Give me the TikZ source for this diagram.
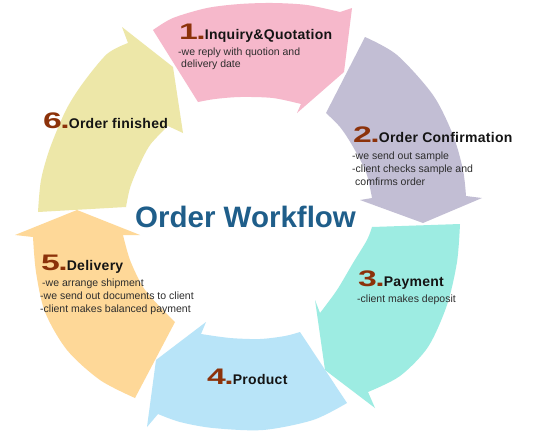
\documentclass[tikz,border=0pt]{standalone}
\usepackage{fontspec}
\setmainfont{Liberation Sans}
\newfontfamily\numfont[FakeStretch=1.5]{Liberation Sans}
\newfontfamily\headfont[LetterSpace=2]{Liberation Sans}
\definecolor{pinkc}{RGB}{246,184,203}
\definecolor{purplec}{RGB}{194,190,212}
\definecolor{tealc}{RGB}{157,236,226}
\definecolor{bluec}{RGB}{184,228,248}
\definecolor{orangec}{RGB}{254,216,152}
\definecolor{yellowc}{RGB}{237,231,168}
\definecolor{numc}{RGB}{140,50,10}
\definecolor{titlec}{RGB}{31,94,138}
\definecolor{headc}{RGB}{20,20,20}
\definecolor{bodyc}{RGB}{45,45,45}
\newcommand\stepnum[1]{{\numfont\bfseries\fontsize{22.5}{22.5}\selectfont\color{numc}#1\kern-1.5pt.\kern-1pt}}
\begin{document}
\begin{tikzpicture}[x=1pt,y=-1pt,
  headtext/.style={anchor=base west, inner sep=0pt, text=headc, font=\headfont\bfseries\fontsize{14}{14}\selectfont},
  bodytext/.style={anchor=base west, inner sep=0pt, text=bodyc, font=\fontsize{10.5}{12}\selectfont},
  titletext/.style={anchor=base west, inner sep=0pt, text=titlec, font=\bfseries\fontsize{29.5}{30}\selectfont}]
\useasboundingbox[fill=white] (0,0) rectangle (538,437);
% 1 pink
\fill[pinkc] plot[smooth] coordinates {(153,30) (173,18) (207,8) (240,4) (273,3) (307,5) (340,12)}
  -- (352,8) -- (344,72) -- (297,113)
  -- plot[smooth] coordinates {(301,104) (273,98) (240,97) (215,99) (198,102)} -- cycle;
% 2 purple
\fill[purplec] plot[smooth] coordinates {(365,37) (397,55) (433,95) (453,135) (463,170) (466,196)}
  -- (482,198) -- (423,223) -- (360,200)
  -- plot[smooth] coordinates {(372,198) (366,172) (352,145) (340,127) (326,113)} -- cycle;
% 3 teal
\fill[tealc] plot[smooth] coordinates {(460,224) (457,262) (447,305) (428,347) (400,376) (368,392)}
  -- (375,408) -- (325,370) -- (315,300)
  -- plot[smooth] coordinates {(320,313) (337,290) (353,263) (367,240) (372,227)} -- cycle;
% 4 blue
\fill[bluec] plot[smooth] coordinates {(347,403) (313,420) (263,430) (213,428) (180,422) (158,414)}
  -- (147,427) -- (156,360) -- (206,322)
  -- plot[smooth] coordinates {(201,334) (230,338) (260,339) (285,336) (300,332)} -- cycle;
% 5 orange
\fill[orangec] plot[smooth] coordinates {(135,398) (100,380) (67,350) (45,312) (36,272) (33,237)}
  -- (15,235) -- (77,210) -- (140,235)
  -- plot[smooth] coordinates {(123,235) (130,260) (143,287) (160,307) (175,322)} -- cycle;
% 6 yellow
\fill[yellowc] plot[smooth] coordinates {(38,212) (41,180) (50,148) (66,110) (83,83) (107,54) (128,43)}
  -- (122,27) -- (173,67) -- (183,133)
  -- plot[smooth] coordinates {(168,126) (150,145) (138,168) (130,188) (126,207)} -- cycle;
% texts
\node[titletext] (title) at (135,227) {Order Workflow};
\node[headtext] (h1) at (179,39) {\stepnum{1}Inquiry\&Quotation};
\node[bodytext] (b1a) at (178,55) {-we reply with quotion and};
\node[bodytext] (b1b) at (181,67) {delivery date};
\node[headtext] (h2) at (353,142.5) {\stepnum{2}Order Confirmation};
\node[bodytext] (b2a) at (352,159) {-we send out sample};
\node[bodytext] (b2b) at (352,172) {-client checks sample and};
\node[bodytext] (b2c) at (355,185) {comfirms order};
\node[headtext] (h3) at (358,286) {\stepnum{3}Payment};
\node[bodytext] (b3a) at (357,302) {-client makes deposit};
\node[headtext] (h4) at (207,384) {\stepnum{4}Product};
\node[headtext] (h5) at (41,270) {\stepnum{5}Delivery};
\node[bodytext] (b5a) at (42,286) {-we arrange shipment};
\node[bodytext] (b5b) at (40,299) {-we send out documents to client};
\node[bodytext] (b5c) at (40,312) {-client makes balanced payment};
\node[headtext] (h6) at (43,128) {\stepnum{6}Order finished};
\end{tikzpicture}
\end{document}
